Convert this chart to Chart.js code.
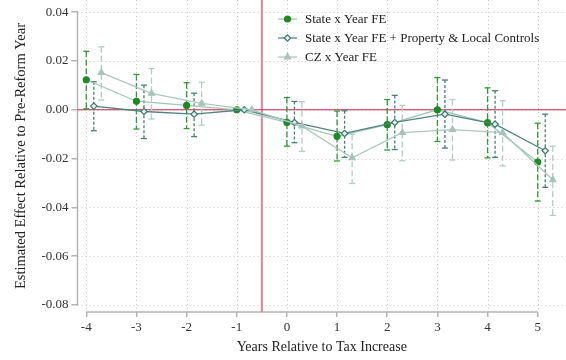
<!DOCTYPE html>
<html>
<head>
<meta charset="utf-8">
<script src="https://cdn.jsdelivr.net/npm/chart.js@4/dist/chart.umd.min.js"></script>
<style>
  html, body { margin: 0; padding: 0; background: #fff; }
  #wrap { width: 566px; height: 360px; }
</style>
</head>
<body>
<div id="wrap"><canvas id="grafico"></canvas></div>
<script>
// =========================
// DADOS
// =========================
const years  = [-4, -3, -2, -1, 0, 1, 2, 3, 4, 5];
const xTicks = [-4, -3, -2, -1, 0, 1, 2, 3, 4, 5];
const yTicks = [0.04, 0.02, 0.00, -0.02, -0.04, -0.06, -0.08];

const labels = [
  "State x Year FE",
  "State x Year FE + Property & Local Controls",
  "CZ x Year FE"
];

// State x Year FE
const stateFE   = [0.0123, 0.0035, 0.0018, 0, -0.0052, -0.0109, -0.0061, 0.0000, -0.0053, -0.0214];
const stateLo   = [0.0004, -0.0079, -0.0077, null, -0.0149, -0.0210, -0.0165, -0.0130, -0.0197, -0.0374];
const stateHi   = [0.0240, 0.0145, 0.0111, null, 0.0050, -0.0005, 0.0042, 0.0132, 0.0090, -0.0055];

// State x Year FE + Property & Local Controls
const ctrlFE    = [0.0015, -0.0007, -0.0018, 0, -0.0052, -0.0097, -0.0052, -0.0018, -0.0059, -0.0168];
const ctrlLo    = [-0.0086, -0.0118, -0.0110, null, -0.0135, -0.0195, -0.0163, -0.0157, -0.0195, -0.0318];
const ctrlHi    = [0.0115, 0.0101, 0.0068, null, 0.0034, -0.0004, 0.0059, 0.0122, 0.0078, -0.0018];

// CZ x Year FE
const czFE      = [0.0152, 0.0067, 0.0026, 0, -0.0067, -0.0197, -0.0094, -0.0081, -0.0094, -0.0287];
const czLo      = [0.0040, -0.0038, -0.0063, null, -0.0171, -0.0302, -0.0209, -0.0206, -0.0230, -0.0433];
const czHi      = [0.0258, 0.0169, 0.0113, null, 0.0033, -0.0100, 0.0018, 0.0042, 0.0037, -0.0149];

// =========================
// ESTILOS
// =========================
const FONT = "'Liberation Serif', 'DejaVu Serif', serif";

const series = [
  { est: stateFE, lo: stateLo, hi: stateHi, off: 0,
    line: "#a3c6b8", mark: "#1f8a24", fill: "#1f8a24", style: "circle", r: 3, ci: "#2f9a36", dash: [6, 2.5] },
  { est: ctrlFE,  lo: ctrlLo,  hi: ctrlHi,  off: 0.15,
    line: "#4f857d", mark: "#3f7a72", fill: "#e6efed", style: "rectRot", r: 3.2, ci: "#4a7f78", dash: [3, 2] },
  { est: czFE,    lo: czLo,    hi: czHi,    off: 0.3,
    line: "#adc8c0", mark: "#a7c3bb", fill: "#a7c3bb", style: "triangle", r: 3.6, ci: "#b3ccc5", dash: [6, 3] }
];

const datasets = series.map((s, k) => ({
  label: labels[k],
  data: years.map((yr, i) => ({ x: yr + s.off, y: s.est[i] })),
  showLine: true,
  borderColor: s.line,
  borderWidth: 1.3,
  pointStyle: s.style,
  pointRadius: s.r,
  pointBorderColor: s.mark,
  pointBackgroundColor: s.fill,
  pointBorderWidth: 1.2,
  order: 3 - k
}));

// zera o padding automático dos rótulos nas pontas
const semPadding = s => { s.paddingTop = 0; s.paddingBottom = 0; s.paddingLeft = 0; s.paddingRight = 0; };

// =========================
// PLUGIN: GRADE, EIXOS, IC, LEGENDA
// =========================
const decor = {
  id: "decor",
  beforeDatasetsDraw(chart) {
    const { ctx, chartArea: a, scales: { x, y } } = chart;
    const seg = (x1, y1, x2, y2) => { ctx.beginPath(); ctx.moveTo(x1, y1); ctx.lineTo(x2, y2); ctx.stroke(); };
    ctx.save();

    // grade pontilhada
    ctx.strokeStyle = "#c9c9c9";
    ctx.lineWidth = 1;
    ctx.setLineDash([1, 3]);
    xTicks.forEach(v => {
      const px = Math.round(x.getPixelForValue(v)) + 0.5;
      seg(px, a.top, px, a.bottom);
    });
    yTicks.forEach(v => {
      const py = Math.round(y.getPixelForValue(v)) + 0.5;
      seg(a.left, py, a.right, py);
    });

    // linhas dos eixos
    ctx.setLineDash([]);
    ctx.strokeStyle = "#b5b5b5";
    ctx.lineWidth = 1.5;
    seg(a.left, y.getPixelForValue(yTicks[0]), a.left, y.getPixelForValue(yTicks[yTicks.length - 1]));
    seg(x.getPixelForValue(xTicks[0]), a.bottom, x.getPixelForValue(xTicks[xTicks.length - 1]), a.bottom);

    // linhas de referência
    ctx.strokeStyle = "#e2829b";
    ctx.lineWidth = 2;
    const vx = x.getPixelForValue(-0.5);
    seg(vx, a.top, vx, a.bottom);
    ctx.strokeStyle = "#c9294f";
    ctx.lineWidth = 1.2;
    const hy = y.getPixelForValue(0);
    seg(a.left, hy, a.right, hy);

    // intervalos de confiança
    series.forEach(s => {
      ctx.strokeStyle = s.ci;
      ctx.lineWidth = 1.3;
      years.forEach((yr, i) => {
        if (s.lo[i] === null) return;
        const px = x.getPixelForValue(yr + s.off);
        const top = y.getPixelForValue(s.hi[i]);
        const bot = y.getPixelForValue(s.lo[i]);
        ctx.setLineDash(s.dash);
        seg(px, top, px, bot);
        ctx.setLineDash([]);
        seg(px - 3, top, px + 3, top);
        seg(px - 3, bot, px + 3, bot);
      });
    });

    ctx.restore();
  },
  afterDraw(chart) {
    const { ctx } = chart;
    ctx.save();
    ctx.font = "13px " + FONT;
    ctx.textBaseline = "middle";
    series.forEach((s, k) => {
      const ly = 19 + k * 19;
      ctx.strokeStyle = s.line;
      ctx.lineWidth = 1.3;
      ctx.beginPath(); ctx.moveTo(278, ly); ctx.lineTo(297, ly); ctx.stroke();
      ctx.strokeStyle = s.mark;
      ctx.fillStyle = s.fill;
      ctx.lineWidth = 1.2;
      Chart.helpers.drawPoint(ctx, { pointStyle: s.style, radius: s.r, borderWidth: 1.2, rotation: 0 }, 287.5, ly);
      ctx.fillStyle = "#222";
      ctx.fillText(labels[k], 305, ly + 1);
    });
    ctx.restore();
  }
};

// =========================
// GRÁFICO
// =========================
new Chart(document.getElementById("grafico"), {
  type: "scatter",
  data: { datasets },
  options: {
    responsive: true,
    maintainAspectRatio: false,
    animation: false,
    layout: { padding: 0, autoPadding: false },
    plugins: {
      legend: { display: false },
      tooltip: { enabled: false }
    },
    scales: {
      x: {
        type: "linear",
        min: -4.175,
        max: 5.564,
        afterBuildTicks: s => { s.ticks = xTicks.map(v => ({ value: v })); },
        afterFit: s => { s.height = 48; semPadding(s); },
        grid: { drawOnChartArea: false, tickLength: 5, color: "#b5b5b5", lineWidth: 1.5 },
        border: { display: false },
        ticks: { color: "#333", font: { family: FONT, size: 13 }, padding: 3, maxRotation: 0 },
        title: { display: true, text: "Years Relative to Tax Increase", color: "#222",
                 font: { family: FONT, size: 14 }, padding: { top: 0, bottom: 4 } }
      },
      y: {
        min: -0.0829,
        max: 0.045,
        afterBuildTicks: s => { s.ticks = yTicks.map(v => ({ value: v })); },
        afterFit: s => { s.width = 77.5; semPadding(s); },
        grid: { drawOnChartArea: false, tickLength: 6, color: "#b5b5b5", lineWidth: 1.5 },
        border: { display: false },
        ticks: { color: "#333", font: { family: FONT, size: 13 }, padding: 3,
                 callback: v => v.toFixed(2) },
        title: { display: true, text: "Estimated Effect Relative to Pre-Reform Year", color: "#222",
                 font: { family: FONT, size: 14.5 }, padding: { top: 12, bottom: 0 } }
      }
    }
  },
  plugins: [decor]
});
</script>
</body>
</html>
